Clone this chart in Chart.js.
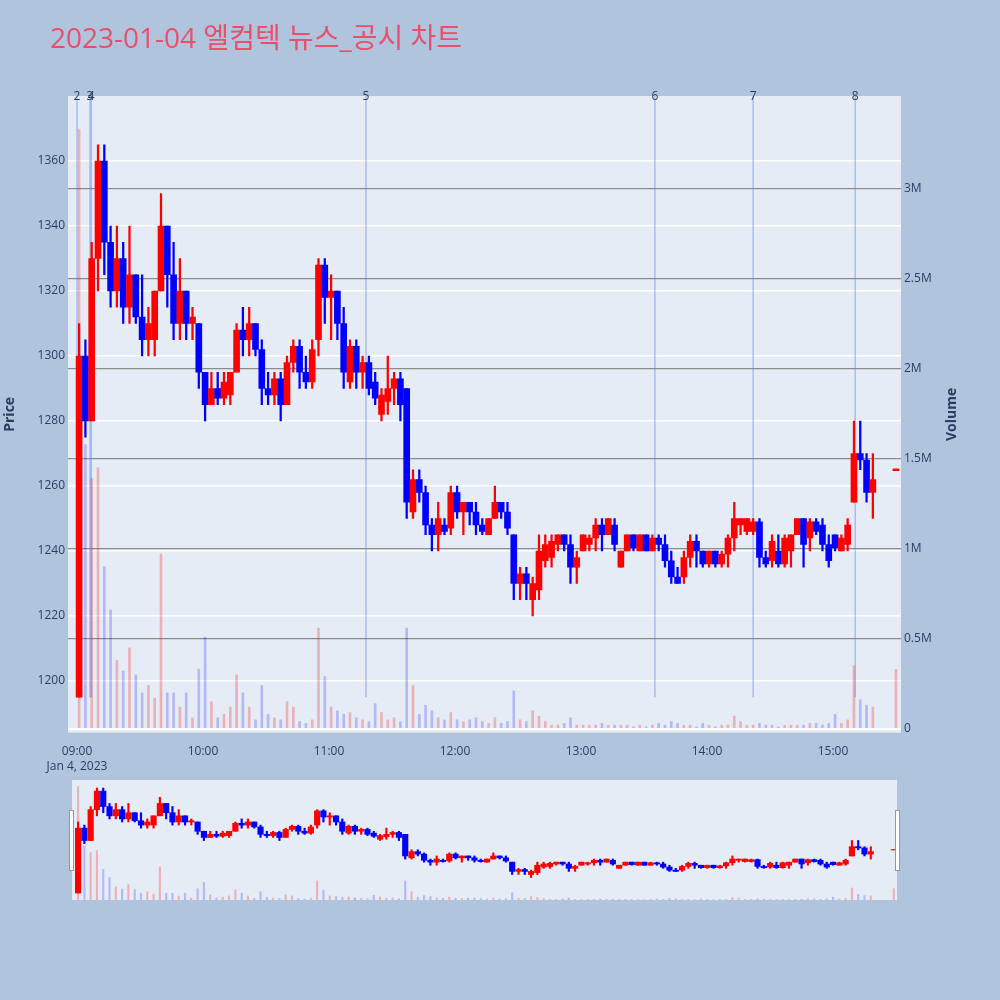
<!DOCTYPE html>
<html>
<head>
<meta charset="utf-8">
<script src="https://cdn.jsdelivr.net/npm/chart.js@4.4.1/dist/chart.umd.min.js"></script>
<style>
  html, body { margin: 0; padding: 0; background: #b0c4de; }
  #wrap { position: relative; width: 1000px; height: 1000px; }
  #main { position: absolute; left: 0; top: 0; }
  #slider { position: absolute; left: 72px; top: 780px; background: #e5ecf6; }
  .handle { position: absolute; top: 810px; width: 3px; height: 59px; background: #fff; border: 1px solid #999; }
</style>
</head>
<body>
<div id="wrap">
  <canvas id="main" width="1000" height="1000"></canvas>
  <canvas id="slider" width="825" height="120"></canvas>
  <div class="handle" style="left:69px"></div>
  <div class="handle" style="left:895px"></div>
</div>
<script>
// minutes after 09:00 (3-minute candles, last one is the 15:30 close)
const minutes = [1,4,7,10,13,16,19,22,25,28,31,34,37,40,43,46,49,52,55,58,
  61,64,67,70,73,76,79,82,85,88,91,94,97,100,103,106,109,112,115,118,
  121,124,127,130,133,136,139,142,145,148,151,154,157,160,163,166,169,172,175,178,
  181,184,187,190,193,196,199,202,205,208,211,214,217,220,223,226,229,232,235,238,
  241,244,247,250,253,256,259,262,265,268,271,274,277,280,283,286,289,292,295,298,
  301,304,307,310,313,316,319,322,325,328,331,334,337,340,343,346,349,352,355,358,
  361,364,367,370,373,376,379,390];

const openP = [1195,1300,1280,1330,1360,1335,1320,1330,1315,1325,
  1312,1305,1305,1320,1340,1325,1310,1320,1310,1310,
  1295,1285,1290,1287,1288,1295,1308,1305,1310,1302,
  1290,1288,1293,1285,1298,1303,1295,1292,1305,1328,
  1318,1320,1310,1292,1303,1295,1298,1292,1282,1286,
  1290,1293,1290,1252,1262,1258,1248,1245,1248,1247,
  1258,1252,1255,1252,1248,1245,1250,1255,1252,1245,
  1230,1233,1225,1228,1237,1238,1242,1245,1242,1235,
  1240,1242,1244,1248,1245,1248,1235,1240,1245,1240,
  1245,1240,1244,1242,1237,1232,1232,1238,1243,1240,
  1236,1240,1236,1239,1244,1248,1246,1246,1249,1238,
  1237,1240,1236,1240,1245,1250,1244,1249,1248,1242,
  1245,1240,1242,1255,1270,1268,1258,1265];

const highP = [1310,1305,1335,1365,1365,1340,1340,1335,1340,1325,
  1325,1315,1320,1350,1340,1335,1330,1320,1315,1310,
  1295,1295,1295,1295,1295,1310,1315,1315,1310,1305,
  1295,1295,1295,1300,1305,1305,1300,1305,1330,1330,
  1325,1320,1315,1305,1305,1300,1300,1295,1290,1300,
  1295,1295,1290,1265,1265,1260,1250,1255,1250,1260,
  1260,1255,1255,1255,1250,1250,1260,1255,1255,1245,
  1235,1235,1232,1245,1245,1245,1245,1245,1245,1240,
  1245,1245,1250,1250,1250,1250,1240,1245,1245,1245,
  1245,1245,1245,1245,1240,1235,1240,1245,1245,1240,
  1240,1240,1240,1245,1255,1250,1250,1250,1250,1240,
  1245,1245,1245,1245,1250,1250,1250,1250,1250,1245,
  1245,1245,1250,1280,1280,1270,1270,1265];

const lowP = [1195,1275,1280,1320,1325,1315,1315,1310,1310,1310,
  1300,1300,1300,1320,1315,1305,1305,1305,1305,1290,
  1280,1285,1285,1285,1285,1295,1300,1300,1300,1285,
  1285,1285,1280,1285,1295,1290,1290,1290,1300,1310,
  1305,1305,1290,1290,1290,1290,1288,1285,1280,1282,
  1285,1280,1250,1250,1255,1245,1240,1240,1245,1245,
  1250,1245,1248,1245,1245,1245,1250,1250,1245,1225,
  1225,1225,1220,1225,1235,1235,1240,1240,1230,1230,
  1240,1240,1240,1240,1245,1240,1235,1240,1240,1240,
  1240,1240,1240,1235,1230,1230,1230,1235,1235,1235,
  1235,1235,1235,1235,1240,1245,1245,1245,1235,1235,
  1235,1235,1235,1235,1245,1235,1240,1245,1240,1235,
  1240,1240,1240,1255,1265,1255,1250,1265];

const closeP = [1300,1280,1330,1360,1335,1320,1330,1315,1325,1312,
  1305,1310,1320,1340,1325,1310,1320,1310,1312,1295,
  1285,1290,1287,1292,1295,1308,1305,1310,1302,1290,
  1288,1293,1285,1298,1303,1295,1292,1302,1328,1318,
  1320,1310,1295,1303,1295,1298,1290,1287,1288,1290,
  1293,1285,1255,1262,1258,1248,1245,1250,1246,1258,
  1252,1255,1252,1248,1246,1250,1255,1252,1247,1230,
  1233,1230,1230,1240,1242,1243,1245,1242,1235,1238,
  1245,1244,1248,1245,1250,1242,1240,1245,1241,1245,
  1240,1244,1242,1237,1232,1230,1238,1243,1240,1236,
  1240,1236,1239,1244,1250,1250,1250,1249,1238,1236,
  1243,1236,1244,1245,1250,1242,1249,1246,1242,1237,
  1241,1244,1248,1270,1268,1258,1262,1265];

// volume in thousands of shares
const volumeK = [3330,1580,1390,1450,900,660,380,320,450,300,
  200,240,170,970,200,200,120,200,60,330,
  510,150,60,80,120,300,200,120,50,240,
  80,60,50,150,120,40,30,50,560,290,
  120,100,80,90,60,50,40,140,90,50,
  60,40,560,240,80,130,100,60,50,90,
  50,40,50,60,40,30,60,30,40,210,
  50,40,100,70,40,20,20,30,60,20,
  20,20,20,30,20,20,20,20,10,20,
  10,20,30,20,40,30,20,20,10,30,
  20,10,20,20,70,40,20,20,30,20,
  20,10,20,20,20,20,30,30,20,30,
  80,30,50,350,160,130,120,330];

const timeTicks = [0, 60, 120, 180, 240, 300, 360];
const timeLabels = ['09:00', '10:00', '11:00', '12:00', '13:00', '14:00', '15:00'];
const priceTicks = [1200, 1220, 1240, 1260, 1280, 1300, 1320, 1340, 1360];
const volumeTicks = [0, 500, 1000, 1500, 2000, 2500, 3000];
const volumeLabels = ['0', '0.5M', '1M', '1.5M', '2M', '2.5M', '3M'];

// news / disclosure markers
const newsMinutes = [0, 6.2, 6.8, 137.6, 275.2, 322, 370.6];
const newsLabels = ['2', '3', '4', '5', '6', '7', '8'];

const TITLE = '2023-01-04 엘컴텍 뉴스_공시 차트';
const FONT = '"Open Sans", "Noto Sans CJK KR", sans-serif';
const INK = '#2a3f5f';

const isUp = minutes.map((m, i) => closeP[i] >= openP[i]);
const candleColors = isUp.map(u => u ? '#ff0000' : '#0000ff');
const volColors = isUp.map(u => u ? 'rgba(255,0,0,0.25)' : 'rgba(0,0,255,0.22)');

const wickData = minutes.map((m, i) => ({ x: m, y: [lowP[i], highP[i]] }));
const bodyData = minutes.map((m, i) => {
  let a = Math.min(openP[i], closeP[i]);
  let b = Math.max(openP[i], closeP[i]);
  if (b - a < 0.6) { a -= 0.3; b += 0.3; }
  return { x: m, y: [a, b] };
});
const volData = minutes.map((m, i) => ({ x: m, y: volumeK[i] }));

function setTicks(list) {
  return s => { s.ticks = list.map(v => ({ value: v })); };
}

const plotBg = {
  id: 'plotBg',
  beforeDraw(chart) {
    const { ctx, chartArea: a } = chart;
    ctx.save();
    ctx.fillStyle = '#e5ecf6';
    ctx.fillRect(a.left, a.top, a.right - a.left, a.bottom - a.top);
    ctx.restore();
  }
};

const newsLines = {
  id: 'newsLines',
  beforeDatasetsDraw(chart) {
    const { ctx, chartArea: a, scales } = chart;
    const yEnd = scales.y.getPixelForValue(1195);
    ctx.save();
    ctx.strokeStyle = 'rgba(90,130,240,0.45)';
    ctx.lineWidth = 1.5;
    newsMinutes.forEach(m => {
      const x = scales.x.getPixelForValue(m);
      ctx.beginPath();
      ctx.moveTo(x, a.top);
      ctx.lineTo(x, yEnd);
      ctx.stroke();
    });
    ctx.restore();
  },
  afterDraw(chart) {
    const { ctx, chartArea: a, scales } = chart;
    ctx.save();
    ctx.fillStyle = INK;
    ctx.font = '12px ' + FONT;
    ctx.textAlign = 'center';
    ctx.textBaseline = 'middle';
    newsMinutes.forEach((m, i) => {
      ctx.fillText(newsLabels[i], scales.x.getPixelForValue(m), a.top + 1);
    });
    ctx.restore();
  }
};

const texts = {
  id: 'texts',
  afterDraw(chart) {
    const { ctx, chartArea: a } = chart;
    const midY = (a.top + a.bottom) / 2;
    ctx.save();
    ctx.fillStyle = '#e9506a';
    ctx.font = '28px ' + FONT;
    ctx.textAlign = 'left';
    ctx.textBaseline = 'middle';
    ctx.fillText(TITLE, 50, 40);

    ctx.fillStyle = INK;
    ctx.font = 'bold 14px ' + FONT;
    ctx.textAlign = 'center';
    ctx.translate(10, midY);
    ctx.rotate(-Math.PI / 2);
    ctx.fillText('Price', 0, 0);
    ctx.restore();

    ctx.save();
    ctx.fillStyle = INK;
    ctx.font = 'bold 14px ' + FONT;
    ctx.textAlign = 'center';
    ctx.textBaseline = 'middle';
    ctx.translate(952, midY);
    ctx.rotate(-Math.PI / 2);
    ctx.fillText('Volume', 0, 0);
    ctx.restore();
  }
};

const tickFont = { family: FONT, size: 12 };

new Chart(document.getElementById('main'), {
  type: 'bar',
  data: {
    datasets: [
      { data: bodyData, backgroundColor: candleColors, barThickness: 6, grouped: false, order: 1, yAxisID: 'y' },
      { data: wickData, backgroundColor: candleColors, barThickness: 1.6, grouped: false, order: 2, yAxisID: 'y' },
      { data: volData, backgroundColor: volColors, barThickness: 2, grouped: false, order: 3, yAxisID: 'y1' }
    ]
  },
  options: {
    responsive: false,
    animation: false,
    layout: { padding: { top: 96, left: 0, right: 0, bottom: 0 } },
    plugins: { legend: { display: false }, tooltip: { enabled: false } },
    scales: {
      x: {
        type: 'linear', min: -4.29, max: 392.4, offset: false,
        grid: { display: false }, border: { display: false },
        afterBuildTicks: setTicks(timeTicks),
        afterFit: s => { s.height = 267.3; },
        ticks: {
          color: INK, font: tickFont, padding: 4, maxRotation: 0, autoSkip: false,
          callback: v => {
            const k = timeTicks.indexOf(v);
            return k === 0 ? [timeLabels[0], 'Jan 4, 2023'] : timeLabels[k];
          }
        }
      },
      y: {
        position: 'left', min: 1184.1, max: 1380,
        afterBuildTicks: setTicks(priceTicks),
        afterFit: s => { s.width = 68; },
        grid: { color: '#ffffff', lineWidth: 1.5, drawTicks: false },
        border: { display: false },
        ticks: { color: INK, font: tickFont, padding: 3, callback: v => String(v) }
      },
      y1: {
        position: 'right', min: -22.2, max: 3517,
        afterBuildTicks: setTicks(volumeTicks),
        afterFit: s => { s.width = 99; },
        grid: {
          color: c => c.tick && c.tick.value === 0 ? '#ffffff' : '#8c8c8c',
          lineWidth: c => c.tick && c.tick.value === 0 ? 2 : 1.3,
          drawTicks: false
        },
        border: { display: false },
        ticks: {
          color: INK, font: tickFont, padding: 3,
          callback: v => volumeLabels[volumeTicks.indexOf(v)]
        }
      }
    }
  },
  plugins: [plotBg, newsLines, texts]
});

// range slider overview
new Chart(document.getElementById('slider'), {
  type: 'bar',
  data: {
    datasets: [
      { data: bodyData, backgroundColor: candleColors, barThickness: 5.5, grouped: false, order: 1, yAxisID: 'y' },
      { data: wickData, backgroundColor: candleColors, barThickness: 1.5, grouped: false, order: 2, yAxisID: 'y' },
      { data: volData, backgroundColor: volColors, barThickness: 1.5, grouped: false, order: 3, yAxisID: 'y1' }
    ]
  },
  options: {
    responsive: false,
    animation: false,
    layout: { padding: 0 },
    plugins: { legend: { display: false }, tooltip: { enabled: false } },
    scales: {
      x: { type: 'linear', display: false, min: -1.9, max: 391.5, offset: false },
      y: { display: false, min: 1183.7, max: 1378 },
      y1: { display: false, min: 0, max: 3520 }
    }
  }
});
</script>
</body>
</html>
